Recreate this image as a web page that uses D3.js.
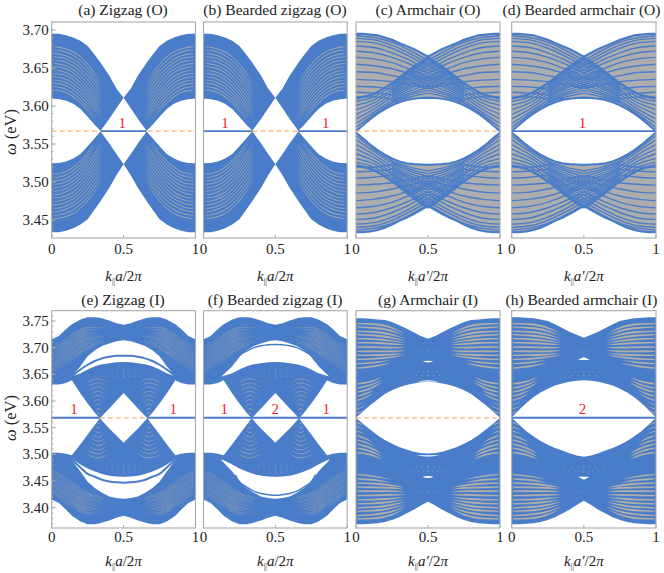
<!DOCTYPE html>
<html><head><meta charset="utf-8">
<script src="https://cdn.jsdelivr.net/npm/d3@7"></script>
<style>html,body{margin:0;padding:0;background:#fff}svg{display:block}text{font-family:"Liberation Serif","Times New Roman",serif;fill:#222}</style>
</head><body><div id="c"></div>
<script>
// ---- band edges over half the zone (the other half is its mirror image)
const kZig = [0,.05,.1,.15,.2,.25,.3,.34,.4,.45,.5];
const zigTop = [3.695,3.695,3.693,3.690,3.686,3.679,3.667,3.657,3.640,3.623,3.611];
const zigUpBot = [3.61,3.609,3.607,3.603,3.596,3.586,3.575,3.5675,3.583,3.597,3.611];
const zigLoTop = [3.5246,3.525,3.527,3.531,3.537,3.547,3.558,3.5665,3.551,3.537,3.5235];
const zigLoBot = [3.434,3.434,3.436,3.439,3.444,3.451,3.464,3.475,3.492,3.509,3.5235];

const kArm = [0,.05,.1,.15,.2,.25,.3,.35,.4,.45,.5];
const armTop = [3.695,3.695,3.694,3.693,3.690,3.687,3.683,3.679,3.675,3.670,3.665];
const armUpBot = [3.567,3.575,3.583,3.590,3.596,3.601,3.605,3.608,3.6095,3.6105,3.611];
const armLoTop = [3.565,3.557,3.549,3.542,3.536,3.531,3.527,3.5245,3.5235,3.523,3.5225];
const armLoBot = [3.434,3.434,3.435,3.437,3.440,3.444,3.449,3.453,3.458,3.463,3.4688];

const kBear = [0,.05,.1,.14,.2,.25,.3,.335,.4,.45,.5];
const innTop = [3.716,3.722,3.735,3.744,3.753,3.757,3.757,3.756,3.751,3.746,3.743];
const innUpBot = [3.631,3.631,3.634,3.639,3.614,3.5955,3.578,3.5675,3.586,3.6006,3.615];
const innLoTop = [3.503,3.503,3.501,3.4985,3.519,3.537,3.555,3.5675,3.5486,3.5355,3.5217];
const innLoBot = [3.4155,3.409,3.396,3.385,3.374,3.369,3.369,3.371,3.376,3.381,3.3847];

const gTop = [3.755,3.755,3.754,3.753,3.752,3.748,3.742,3.736,3.729,3.722,3.7168];
const gUpBot = [3.5685,3.581,3.5925,3.603,3.613,3.620,3.626,3.630,3.633,3.635,3.636];
const gLoTop = [3.5685,3.557,3.546,3.536,3.527,3.520,3.514,3.509,3.505,3.5025,3.5015];
const gLoBot = [3.369,3.369,3.370,3.371,3.373,3.377,3.382,3.389,3.396,3.404,3.411];
const hTop = [3.757,3.757,3.756,3.755,3.753,3.750,3.744,3.737,3.730,3.724,3.7187];
const hUpBot = [3.5685,3.583,3.596,3.607,3.616,3.623,3.629,3.633,3.636,3.638,3.639];
const hLoTop = [3.5685,3.556,3.544,3.534,3.525,3.518,3.512,3.507,3.502,3.498,3.4954];
const hLoBot = [3.369,3.369,3.370,3.371,3.373,3.377,3.382,3.389,3.396,3.405,3.4129];

// ---- white gaps inside the inner-type zigzag bands
const kLens = [.14,.2,.25,.3,.35,.4,.45,.5];
const kLensF = [.125,.2,.25,.3,.35,.4,.45,.5];
const lensUpHi = [3.646,3.665,3.684,3.695,3.703,3.708,3.712,3.714];
const lensUpLo = [3.646,3.652,3.659,3.665,3.669,3.671,3.6725,3.673];
const lensLoHi = [3.491,3.481,3.4735,3.468,3.463,3.460,3.4585,3.458];
const lensLoLo = [3.489,3.468,3.4485,3.437,3.428,3.421,3.418,3.417];
const kEdgeE = kLens;
const edgeEUp = [3.646,3.659,3.668,3.675,3.680,3.683,3.685,3.685];
const edgeELo = [3.490,3.4755,3.4635,3.458,3.4525,3.449,3.4475,3.447];
const kEdgeF = [.22,.25,.3,.35,.4,.45,.5];
const edgeFUp = [3.674,3.685,3.6935,3.700,3.7035,3.7055,3.706];
const edgeFLo = [3.462,3.4485,3.439,3.431,3.4265,3.4245,3.4235];

// ---- small white slivers at the zone centre of the armchair (I) panels
const kSliverIn = [.46,.48,.5];
const kSliverOut = [.42,.46,.5];
const gSlivers = [
  {k:kSliverIn, hi:[3.674,3.675,3.6755], lo:[3.674,3.673,3.672]},
  {k:kSliverOut, hi:[3.636,3.638,3.639], lo:[3.636,3.6365,3.6365]},
  {k:kSliverOut, hi:[3.4985,3.4985,3.4985], lo:[3.4985,3.4965,3.496]},
  {k:kSliverIn, hi:[3.458,3.459,3.4595], lo:[3.458,3.456,3.4555]}];
const hSlivers = [
  {k:kSliverIn, hi:[3.677,3.680,3.682], lo:[3.677,3.677,3.677]},
  {k:kSliverIn, hi:[3.458,3.458,3.458], lo:[3.458,3.455,3.4525]}];

// ---- grey stripes between blue mode lines
const kZigStripe = [.015,.08,.17,.24,.31,.35];
const zigStripes = [
 [3.621,3.619,3.609,3.596,3.578],[3.6255,3.6235,3.6135,3.60,3.582],[3.63,3.628,3.618,3.6045,3.587],
 [3.6342,3.632,3.6225,3.609,3.5915,3.580],[3.6386,3.6365,3.627,3.6135,3.596,3.584],
 [3.643,3.641,3.6315,3.618,3.6005,3.588],[3.6474,3.645,3.636,3.6225,3.605,3.592],
 [3.6518,3.65,3.641,3.627,3.610,3.597],[3.6562,3.654,3.6455,3.632,3.615,3.602],
 [3.6605,3.6585,3.65,3.637,3.62,3.607],[3.6649,3.663,3.6545,3.642,3.625,3.612],
 [3.6693,3.667,3.659,3.647,3.63,3.617],[3.6737,3.672,3.664,3.652,3.635,3.622],
 [3.678,3.676,3.669,3.657,3.640,3.627]];

const kInnStripe = [.013,.128,.244,.36];
const innStripes = [
 [3.6994,3.7219,3.7375,3.7381],[3.6962,3.7181,3.7344,3.7356],[3.6928,3.7147,3.7313,3.7331],
 [3.6893,3.7112,3.7281,3.7309],[3.6862,3.7075,3.725,3.7284],[3.683,3.7037,3.7219,3.7262],
 [3.6797,3.70,3.7187,3.7237],[3.6762,3.6969,3.7156,3.7212],[3.6731,3.6931,3.7125,3.7187],
 [3.67,3.6894,3.7094,3.7162],[3.6665,3.6856,3.7062,3.714],[3.6631,3.6822,3.7031,3.7119],
 [3.66,3.6787,3.70,3.7094],[3.6568,3.675,3.6969,3.7069]];

const coneK = [[.249,.325,.402],[.256,.325,.395],[.265,.325,.388],[.274,.325,.378],[.281,.325,.372],
 [.29,.325,.362],[.30,.326,.355],[.309,.327,.346],[.316,.327,.339]];
const coneStripes = [[3.6356,3.6416,3.6336],[3.628,3.634,3.626],[3.6206,3.6266,3.6186],[3.6131,3.6186,3.6111],
 [3.6056,3.6106,3.6036],[3.5981,3.6026,3.5961],[3.5905,3.5945,3.5885],[3.583,3.586,3.581],[3.5755,3.578,3.574]];

const kArmI = [.01,.12,.24,.34];
const armIStripes = [
 [3.745,3.744,3.738,3.726],[3.7387,3.737,3.732,3.722],[3.7306,3.7295,3.725,3.717],[3.7244,3.723,3.719,3.713],
 [3.7168,3.716,3.713,3.709],[3.7093,3.709,3.707,3.705],[3.7012,3.701,3.70,3.70],[3.6931,3.693,3.693,3.695],
 [3.6856,3.686,3.687,3.690],[3.6781,3.679,3.682,3.686],[3.67,3.672,3.677],[3.6618,3.665,3.671]];
const kArmINear = [.01,.06,.12,.18];
const armINearStripes = [[3.6324,3.634,3.638,3.645],[3.6243,3.627,3.632,3.64],[3.6168,3.62,3.626,3.635],
 [3.6093,3.613,3.62],[3.6012,3.606,3.614],[3.593,3.598],[3.5855,3.59],[3.5774,3.583]];

// ---- blue mode lines over grey in the armchair (O) panels
const kArmLine = [0,.125,.25,.375,.5];
const armFall = [
 [3.6925,3.690,3.684,3.673,3.660],[3.689,3.687,3.680,3.669,3.656],[3.685,3.683,3.676,3.665,3.652],
 [3.679,3.677,3.670,3.660,3.647],[3.672,3.670,3.664,3.655,3.643],[3.664,3.662,3.657,3.648,3.638],
 [3.655,3.653,3.649,3.642,3.633],[3.645,3.644,3.640,3.635,3.628],[3.635,3.634,3.632,3.628,3.623],
 [3.626,3.625,3.622],[3.618,3.617,3.615],[3.612,3.612,3.609]];
const armRise = [
 [3.572,3.589,3.604,3.612,3.617],[3.577,3.592,3.607,3.617,3.624],[3.583,3.596,3.611,3.623,3.631],
 [3.589,3.600,3.615,3.628,3.638],[3.595,3.604,3.619,3.634,3.645],[3.601,3.608,3.622,3.639,3.652],
 [3.606,3.612,3.626,3.644,3.658],[3.610,3.616,3.630,3.648,3.664]];
// finer mesh lines that only show inside the crossing region
const kMeshA = [.25,.375,.5];
const meshA = [[3.6055,3.6145,3.6205],[3.609,3.620,3.6275],[3.613,3.6255,3.6345],[3.617,3.631,3.6415],
 [3.6205,3.6365,3.6485],[3.624,3.6415,3.655],[3.628,3.646,3.661]];
const kMeshB = [.375,.5];
const meshB = [[3.645,3.6355],[3.6385,3.6305],[3.6315,3.6255]];

// ---- sparse pale dots: energy, then momenta in the left half
const innDotE = [3.6612,3.6562,3.6512,3.6462];
const innDotK = [[.46,.5],[.42,.46,.5],[.39,.42,.46,.5],[.38,.42,.46,.5]];
const armIDotE = [3.695,3.655,3.648];
const armIDotK = [[.44,.47,.5],[.36,.4,.44,.47,.5],[.42,.46,.5]];

// ---- text
const yTicksTop = [3.70,3.65,3.60,3.55,3.50,3.45];
const yTicksBottom = [3.75,3.70,3.65,3.60,3.55,3.50,3.45,3.40];
const xTicks = [0,.5,1];
const titles = ["(a) Zigzag (O)","(b) Bearded zigzag (O)","(c) Armchair (O)","(d) Bearded armchair (O)",
                "(e) Zigzag (I)","(f) Bearded zigzag (I)","(g) Armchair (I)","(h) Bearded armchair (I)"];

const W=664,H=573, BLUE="#4a7dc9", GREY="#adadad", FRAME="#a9a9a9", RED="#f0242c", DASH="#f6b67c";
const svg=d3.select("#c").append("svg").attr("width",W).attr("height",H);
const cols=[[51.7,195.5],[203.5,347.2],[356,500],[511.7,656]];
const titleX=[123,275,428,581.5];
const rows=[
 {top:22,bot:238,scale:d3.scaleLinear().domain([3.70,3.45]).range([30,220]),ticks:yTicksTop,flat:3.567,titleY:15,numY:254,labY:281,axisY:132},
 {top:310.7,bot:528,scale:d3.scaleLinear().domain([3.75,3.40]).range([321,507.7]),ticks:yTicksBottom,flat:3.5685,titleY:305,numY:542,labY:566,axisY:418}];
const outerMirror=[3.5665,1.03], innOuter=[3.563,1], innCone=[3.5675,1.0], armIOuter=[3.562,1.0], armINear=[3.5685,1.02];

const zigFam=[{k:kZigStripe,rows:zigStripes,m:outerMirror,w:.5,o:.85}];
const innFam=[{k:kInnStripe,rows:innStripes,m:innOuter,w:.33,o:.55},{k:coneK,rows:coneStripes,m:innCone,w:.42,o:.75}];
const armIFam=[{k:kArmI,rows:armIStripes,m:armIOuter,w:.85,o:1},{k:kArmINear,rows:armINearStripes,m:armINear,w:.8,o:1}];
const panels=[
 {r:0,c:0,bands:[[kZig,zigTop,zigUpBot],[kZig,zigLoTop,zigLoBot]],fill:BLUE,stripes:zigFam,blue:[[.34,.66]],dash:[[0,1]],labels:[[.49,"1"]],xl:"a"},
 {r:0,c:1,bands:[[kZig,zigTop,zigUpBot],[kZig,zigLoTop,zigLoBot]],fill:BLUE,stripes:zigFam,blue:[[0,.34],[.66,1]],dash:[[.34,.66]],labels:[[.15,"1"],[.85,"1"]],xl:"a"},
 {r:0,c:2,bands:[[kArm,armTop,armUpBot],[kArm,armLoTop,armLoBot]],fill:GREY,lines:true,blue:[],dash:[[0,1]],labels:[],xl:"p"},
 {r:0,c:3,bands:[[kArm,armTop,armUpBot],[kArm,armLoTop,armLoBot]],fill:GREY,lines:true,blue:[[0,1]],dash:[],labels:[[.49,"1"]],xl:"p"},
 {r:1,c:0,bands:[[kBear,innTop,innUpBot],[kBear,innLoTop,innLoBot]],fill:BLUE,holes:[[kLens,lensUpHi,lensUpLo],[kLens,lensLoHi,lensLoLo]],edges:[[kEdgeE,edgeEUp],[kEdgeE,edgeELo]],edgeW:2,
  stripes:innFam,dots:[innDotE,innDotK,innOuter],blue:[[0,.335],[.665,1]],dash:[[.335,.665]],labels:[[.155,"1"],[.845,"1"]],xl:"a"},
 {r:1,c:1,bands:[[kBear,innTop,innUpBot],[kBear,innLoTop,innLoBot]],fill:BLUE,holes:[[kLensF,lensUpHi,lensUpLo],[kLensF,lensLoHi,lensLoLo]],edges:[[kEdgeF,edgeFUp],[kEdgeF,edgeFLo]],edgeW:1.5,
  stripes:innFam,dots:[innDotE,innDotK,innOuter],blue:[[0,1]],dash:[],labels:[[.145,"1"],[.5,"2"],[.855,"1"]],xl:"a"},
 {r:1,c:2,bands:[[kArm,gTop,gUpBot],[kArm,gLoTop,gLoBot]],fill:BLUE,slivers:gSlivers,
  stripes:armIFam,dots:[armIDotE,armIDotK,armIOuter],blue:[],dash:[[0,1]],labels:[],xl:"p"},
 {r:1,c:3,bands:[[kArm,hTop,hUpBot],[kArm,hLoTop,hLoBot]],fill:BLUE,slivers:hSlivers,
  stripes:armIFam,dots:[armIDotE,armIDotK,armIOuter],blue:[[0,1]],dash:[],labels:[[.49,"2"]],xl:"p"}
];

panels.forEach((p,idx)=>{
  const R=rows[p.r], [x0,x1]=cols[p.c], y=R.scale;
  const x=d3.scaleLinear().domain([0,1]).range([x0,x1]);
  const g=svg.append("g");
  const fullBand=(k,hi,lo)=>{
    const a=k.map((d,i)=>({k:d,hi:hi[i],lo:lo[i]}));
    const b=a.filter(d=>d.k<.5).map(d=>({k:1-d.k,hi:d.hi,lo:d.lo})).reverse();
    return a.concat(b);
  };
  const area=d3.area().x(d=>x(d.k)).y0(d=>y(d.lo)).y1(d=>y(d.hi));
  p.bands.forEach(b=>g.append("path").attr("d",area(fullBand(...b))).attr("fill",p.fill));

  const line=d3.line().x(d=>x(d[0])).y(d=>y(d[1])).curve(d3.curveMonotoneX);
  if(p.lines){
    const [c,s]=outerMirror;
    const drawRow=(ks,row,w)=>{
      [row,row.map(e=>c-(e-c)*s)].forEach(r=>{
        const half=r.map((e,i)=>[ks[i],e]);
        g.append("path").attr("d",line(half)).attr("fill","none").attr("stroke",BLUE).attr("stroke-width",w);
        g.append("path").attr("d",line(half.map(d=>[1-d[0],d[1]]).reverse())).attr("fill","none").attr("stroke",BLUE).attr("stroke-width",w);
      });
    };
    armFall.forEach(r=>drawRow(kArmLine,r,1.4));
    armRise.forEach((r,i)=>drawRow(kArmLine,r,i===armRise.length-1?2.6:1.4));
    meshA.forEach(r=>drawRow(kMeshA,r,1.3));
    meshB.forEach(r=>drawRow(kMeshB,r,1.3));
    p.bands.forEach(b=>{
      const a=fullBand(...b);
      [d=>d.hi,d=>d.lo].forEach(f=>g.append("path")
        .attr("d",d3.line().x(d=>x(d.k)).y(d=>y(f(d)))(a)).attr("fill","none").attr("stroke",BLUE).attr("stroke-width",2.2));
    });
  }

  (p.stripes||[]).forEach(f=>{
    const [c,s]=f.m;
    const st=d3.area().x(d=>x(d.k)).y0(d=>y(d.e)-d.w).y1(d=>y(d.e)+d.w).curve(d3.curveMonotoneX);
    f.rows.forEach((row,i)=>{
      const ks=Array.isArray(f.k[0])?f.k[i]:f.k;
      const pts=row.map((e,j)=>({k:ks[j],e,w:j===row.length-1?.05:(j===0?f.w*.7:f.w)}));
      [pts,pts.map(d=>({...d,e:c-(d.e-c)*s}))].forEach(q=>{
        [q,q.map(d=>({...d,k:1-d.k})).reverse()].forEach(h=>
          g.append("path").attr("d",st(h)).attr("fill","#b2afa8").attr("opacity",f.o));
      });
    });
  });
  if(p.dots){
    const [Es,Ks,m]=p.dots, [c,s]=m;
    Es.forEach((e,i)=>Ks[i].forEach(k=>{
      [e,c-(e-c)*s].forEach(v=>{
        [k,1-k].forEach(q=>g.append("circle").attr("cx",x(q)).attr("cy",y(v)).attr("r",.55).attr("fill","#b2afa8").attr("opacity",.6));
      });
    }));
  }
  (p.holes||[]).forEach(b=>g.append("path").attr("d",area(fullBand(...b))).attr("fill","#fff"));
  (p.slivers||[]).forEach(b=>g.append("path").attr("d",area(fullBand(b.k,b.hi,b.lo))).attr("fill","#fff"));
  (p.edges||[]).forEach(([k,v])=>{
    const a=k.map((d,i)=>[d,v[i]]);
    const full=a.concat(a.filter(d=>d[0]<.5).map(d=>[1-d[0],d[1]]).reverse());
    g.append("path").attr("d",d3.line().x(d=>x(d[0])).y(d=>y(d[1])).curve(d3.curveMonotoneX)(full)).attr("fill","none").attr("stroke",BLUE).attr("stroke-width",p.edgeW);
  });

  p.dash.forEach(([a,b])=>g.append("line").attr("x1",x(a)).attr("x2",x(b)).attr("y1",y(R.flat)).attr("y2",y(R.flat))
     .attr("stroke",DASH).attr("stroke-width",1.2).attr("stroke-dasharray","5 3"));
  p.blue.forEach(([a,b])=>g.append("line").attr("x1",x(a)).attr("x2",x(b)).attr("y1",y(R.flat)).attr("y2",y(R.flat))
     .attr("stroke",BLUE).attr("stroke-width",1.9));
  p.labels.forEach(([k,t])=>g.append("text").attr("x",x(k)).attr("y",y(R.flat)-3.5).attr("text-anchor","middle")
     .attr("font-size",15).style("fill",RED).text(t));

  // frame and ticks
  g.append("rect").attr("x",x0).attr("y",R.top).attr("width",x1-x0).attr("height",R.bot-R.top)
     .attr("fill","none").attr("stroke",FRAME).attr("stroke-width",1.1);
  xTicks.forEach(t=>{
    g.append("line").attr("x1",x(t)).attr("x2",x(t)).attr("y1",R.bot).attr("y2",R.bot-3).attr("stroke",FRAME);
    g.append("text").attr("x",x(t)).attr("y",R.numY).attr("text-anchor","middle").attr("font-size",15).text(d3.format("~g")(t));
  });
  if(p.c===0){
    R.ticks.forEach(t=>{
      g.append("line").attr("x1",x0).attr("x2",x0+4).attr("y1",y(t)).attr("y2",y(t)).attr("stroke",FRAME);
      g.append("text").attr("x",x0-3).attr("y",y(t)+5).attr("text-anchor","end").attr("font-size",15).text(t.toFixed(2));
    });
    const [lo,hi]=[y.invert(R.bot),y.invert(R.top)];
    d3.range(Math.ceil(lo*100),Math.floor(hi*100)+1).forEach(n=>{
      g.append("line").attr("x1",x0).attr("x2",x0+2).attr("y1",y(n/100)).attr("y2",y(n/100)).attr("stroke",FRAME).attr("stroke-width",.7);
    });
    const a=g.append("text").attr("transform",`translate(16,${R.axisY}) rotate(-90)`).attr("text-anchor","middle").attr("font-size",16.5);
    a.append("tspan").attr("font-style","italic").text("ω");
    a.append("tspan").text(" (eV)");
  }
  g.append("text").attr("x",titleX[p.c]).attr("y",R.titleY).attr("text-anchor","middle").attr("font-size",15.5).text(titles[idx]);
  const xl=g.append("text").attr("x",x(.5)).attr("y",R.labY).attr("text-anchor","middle").attr("font-size",15);
  xl.append("tspan").attr("font-style","italic").text("k");
  xl.append("tspan").attr("font-size",8).attr("dy",3).text("||");
  xl.append("tspan").attr("font-style","italic").attr("dy",-3).text(p.xl==="a"?"a":"a′");
  xl.append("tspan").text("/2");
  xl.append("tspan").attr("font-style","italic").text("π");
});
</script></body></html>
